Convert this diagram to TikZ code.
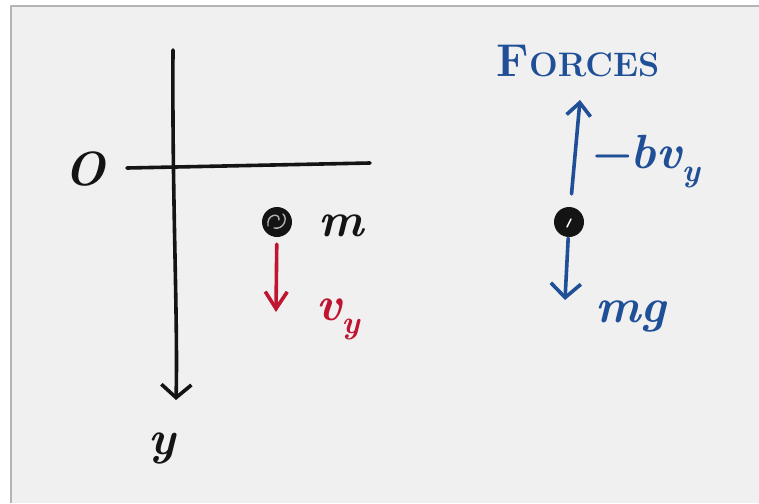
\documentclass[tikz,border=0pt]{standalone}
\usepackage{fontspec}
\usetikzlibrary{arrows.meta}
\definecolor{bg}{HTML}{F0F0F0}
\definecolor{frame}{HTML}{B4B4B4}
\definecolor{inkred}{HTML}{C01530}
\definecolor{inkblue}{HTML}{1F4F97}
\definecolor{ink}{HTML}{141414}
\newcommand{\subsc}[1]{\raisebox{-0.28em}{\fontsize{32}{34}\selectfont #1}}
\begin{document}
\begin{tikzpicture}[x=1pt,y=-1pt, line cap=round, line join=round,
  pen/.style={line width=3.6pt},
  lbl/.style={inner sep=0pt, font=\fontsize{48}{52}\selectfont\bfseries\itshape},
  ball/.style={circle, fill=ink, minimum size=30pt, inner sep=0pt}]
\useasboundingbox (0,0) rectangle (759,503);
\fill[white] (0,0) rectangle (759,503);
\fill[bg] (11,6) rectangle (759,503);
\draw[frame, line width=2.5pt, line cap=butt] (11,503) -- (11,6) -- (759,6);

% axes
\coordinate (vtop) at (173,50);
\coordinate (vtip) at (176,400);
\coordinate (hl) at (127,168);
\coordinate (hr) at (370,163);
\draw[pen, ink, -{Straight Barb[length=13pt,width=30pt]}] (vtop) .. controls (172,200) and (178,320) .. (vtip);
\draw[pen, ink] (hl) -- (hr);
\node[lbl, ink] (O) at (85,169) {O};
\node[lbl, ink, anchor=base] (ylab) at (162,454) {y};

% mass on the left
\node[ball] (m1) at (277,222) {};
\draw[gray!60, line width=1.4pt] (268,226) .. controls (266,214) and (280,212) .. (279,220)
  (274,228) .. controls (284,230) and (288,218) .. (283,214);
\node[lbl, ink, anchor=base] (mlab) at (341,236) {m};
\coordinate (r1) at (276,312);
\draw[pen, inkred, -{Straight Barb[length=17pt,width=22pt]}, shorten <=7pt] (m1) -- (r1);
\node[lbl, inkred, anchor=base west] (vlab) at (316,320) {v\subsc{y}};

% forces
\node[text=inkblue, inner sep=0pt, anchor=base, font=\bfseries] (forces) at (578,76)
  {\fontsize{46}{50}\selectfont F\fontsize{34}{38}\selectfont ORCES};
\node[ball] (m2) at (569,222) {};
\draw[white, line width=1.4pt] (567,227) -- (571,219);
\coordinate (up) at (580,100);
\coordinate (dn) at (565,300);
\draw[pen, inkblue, -{Straight Barb[length=13pt,width=24pt]}, shorten <=13pt] (m2) -- (up);
\draw[pen, inkblue, -{Straight Barb[length=14pt,width=30pt]}, shorten <=1pt] (m2) -- (dn);
\node[lbl, inkblue, anchor=base west] (drag) at (588,168) {−bv\subsc{y}};
\node[lbl, inkblue, anchor=base west] (grav) at (595,322) {mg};
\end{tikzpicture}
\end{document}
